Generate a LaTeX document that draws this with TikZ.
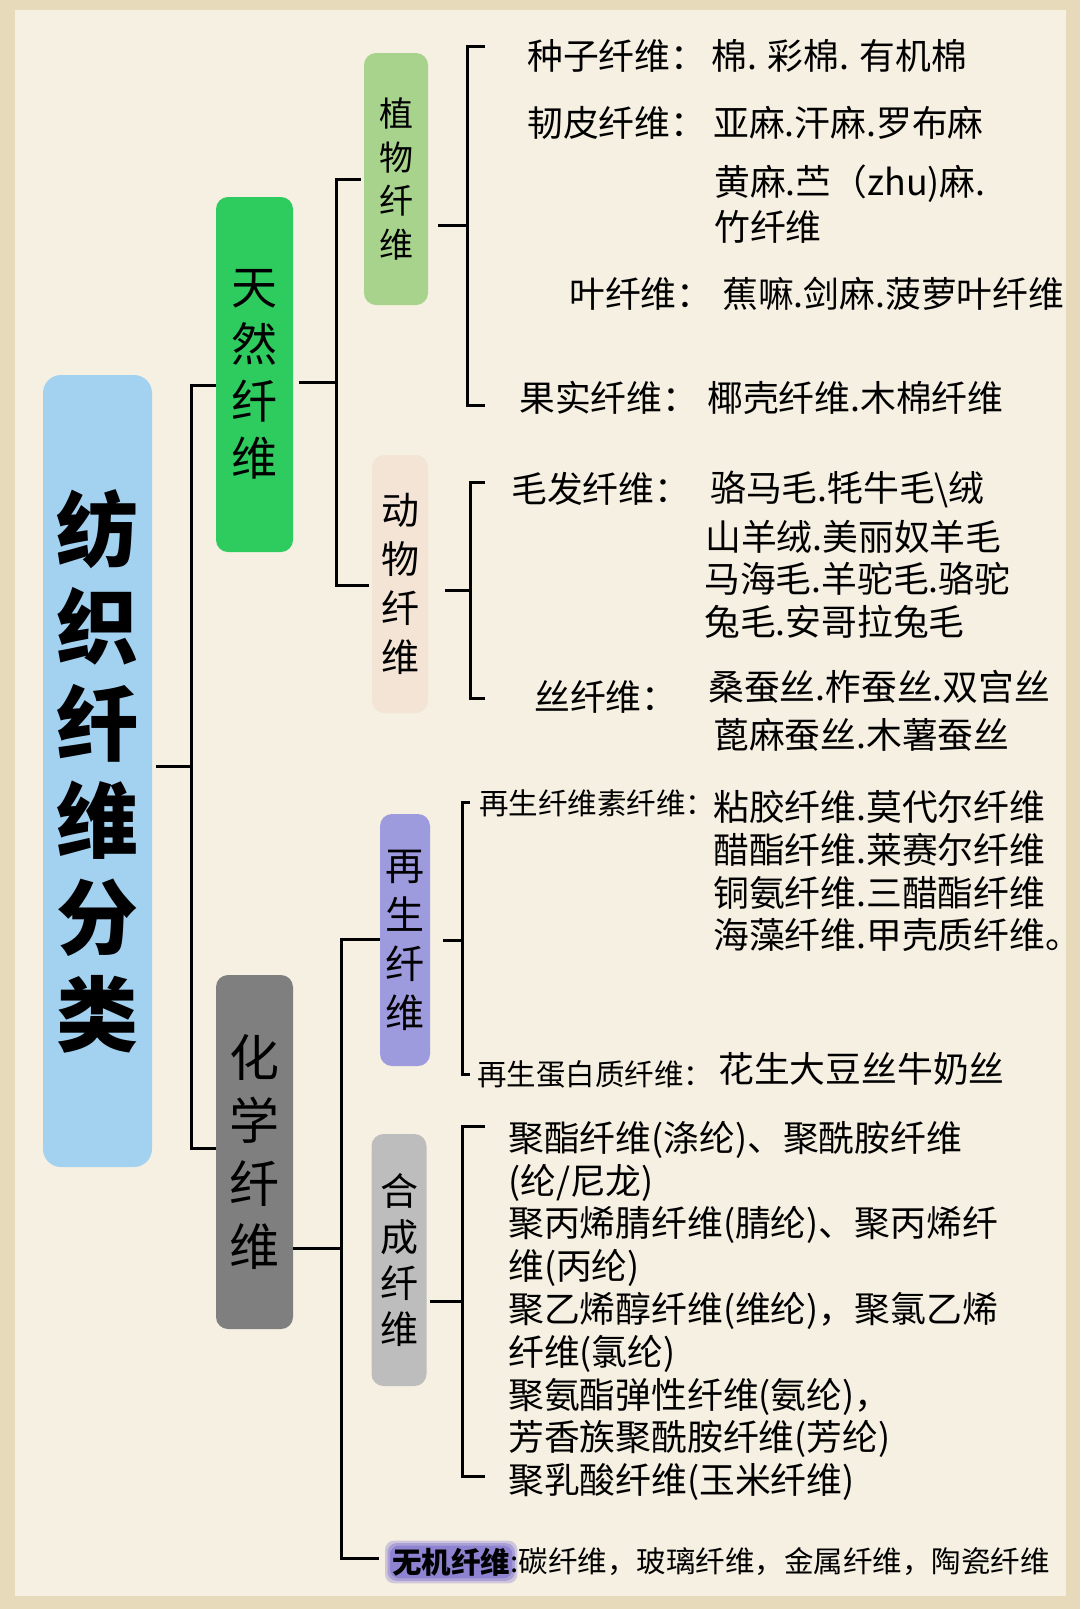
\documentclass[tikz,border=0pt]{standalone}
\usepackage{fontspec}
\setmainfont{Noto Sans CJK SC}
\usetikzlibrary{calc}
\definecolor{outerbg}{HTML}{E7DABA}
\definecolor{innerbg}{HTML}{F6F0E2}
\definecolor{mainblue}{HTML}{A3D1F0}
\definecolor{tianranc}{HTML}{2ECC5F}
\definecolor{zhiwuc}{HTML}{A8D38D}
\definecolor{dongwuc}{HTML}{F3E4D6}
\definecolor{zaishengc}{HTML}{9E9ADE}
\definecolor{hechengc}{HTML}{BDBDBD}
\definecolor{huaxuec}{HTML}{7F7F7F}
\definecolor{glowc}{HTML}{7468CC}
\pgfdeclarelayer{bgl}
\pgfdeclarelayer{glowl}
\pgfsetlayers{bgl,glowl,main}
\begin{document}
\begin{tikzpicture}[x=1pt,y=-1pt,
  conn/.style={line width=3pt,draw=black},
  box/.style={rounded corners=12pt,inner sep=0pt,align=center,text=black},
  txt/.style={anchor=west,inner sep=0pt,text=black,font=\fontsize{35.8}{35.8}\selectfont},
  smtxt/.style={anchor=west,inner sep=0pt,text=black,font=\fontsize{29.5}{29.5}\selectfont},
]
\useasboundingbox (0,0) rectangle (1080,1609);
\begin{pgfonlayer}{bgl}
\fill[outerbg] (0,0) rectangle (1080,1609);
\fill[innerbg] (15,10) rectangle (1066,1596);
\end{pgfonlayer}

% boxes
\node[box,rounded corners=18pt,fill=mainblue,minimum width=109pt,minimum height=792pt,font=\bfseries\fontsize{82}{97}\selectfont] (main) at (97.5,771) {纺\\织\\纤\\维\\分\\类};
\node[box,fill=tianranc,minimum width=77pt,minimum height=355pt,font=\fontsize{46}{57}\selectfont] (tianran) at (254.5,374.5) {天\\然\\纤\\维};
\node[box,fill=zhiwuc,minimum width=64pt,minimum height=252pt,font=\fontsize{34}{43.5}\selectfont] (zhiwu) at (396,179) {植\\物\\纤\\维};
\node[box,fill=dongwuc,minimum width=56pt,minimum height=258pt,font=\fontsize{38}{49}\selectfont] (dongwu) at (400,584) {动\\物\\纤\\维};
\node[box,fill=huaxuec,minimum width=77pt,minimum height=354pt,font=\fontsize{50}{63}\selectfont] (huaxue) at (254.5,1152) {化\\学\\纤\\维};
\node[box,fill=zaishengc,minimum width=50pt,minimum height=252pt,font=\fontsize{39}{49}\selectfont] (zaisheng) at (405,940) {再\\生\\纤\\维};
\node[box,fill=hechengc,minimum width=55pt,minimum height=252pt,font=\fontsize{38}{46}\selectfont] (hecheng) at (399,1260) {合\\成\\纤\\维};

% plant texts
\node[txt] (p1a) at (527,56) {种子纤维：};
\node[txt] (p1b) at (711,56) {棉. 彩棉. 有机棉};
\node[txt] (p2a) at (527,123) {韧皮纤维：};
\node[txt] (p2b) at (713,123) {亚麻.汗麻.罗布麻};
\node[txt] (p3) at (714,184) {黄麻.苎（zhu)麻.};
\node[txt] (p4) at (714,227) {竹纤维};
\node[txt] (p5a) at (569,294) {叶纤维：};
\node[txt] (p5b) at (722,294) {蕉嘛.剑麻.菠萝叶纤维};
\node[txt] (p6a) at (519,398) {果实纤维：};
\node[txt] (p6b) at (707,398) {椰壳纤维.木棉纤维};

% animal texts
\node[txt] (a1a) at (511,489) {毛发纤维：};
\node[txt] (a1b) at (710,489) {骆马毛.牦牛毛\textbackslash 绒};
\node[txt] (a2) at (705,537) {山羊绒.美丽奴羊毛};
\node[txt] (a3) at (704,579) {马海毛.羊驼毛.骆驼};
\node[txt] (a4) at (704,622) {兔毛.安哥拉兔毛};
\node[txt] (a5a) at (534,697) {丝纤维：};
\node[txt] (a5b) at (708,687) {桑蚕丝.柞蚕丝.双宫丝};
\node[txt] (a6) at (713,735) {蓖麻蚕丝.木薯蚕丝};

% regenerated texts
\node[smtxt] (r1a) at (479,803) {再生纤维素纤维：};
\node[txt] (r1b) at (713,807) {粘胶纤维.莫代尔纤维};
\node[txt] (r2) at (713,850) {醋酯纤维.莱赛尔纤维};
\node[txt] (r3) at (713,893) {铜氨纤维.三醋酯纤维};
\node[txt] (r4) at (713,935) {海藻纤维.甲壳质纤维。};
\node[smtxt] (r5a) at (477,1074) {再生蛋白质纤维：};
\node[txt] (r5b) at (718,1069) {花生大豆丝牛奶丝};

% synthetic texts
\node[txt] (s1) at (508,1140) {聚酯纤维(涤纶)、聚酰胺纤维};
\node[txt] (s2) at (508,1183) {(纶/尼龙)};
\node[txt] (s3) at (508,1225) {聚丙烯腈纤维(腈纶)、聚丙烯纤};
\node[txt] (s4) at (508,1268) {维(丙纶)};
\node[txt] (s5) at (508,1311) {聚乙烯醇纤维(维纶)，聚氯乙烯};
\node[txt] (s6) at (508,1354) {纤维(氯纶)};
\node[txt] (s7) at (508,1397) {聚氨酯弹性纤维(氨纶)，};
\node[txt] (s8) at (508,1439) {芳香族聚酰胺纤维(芳纶)};
\node[txt] (s9) at (508,1482) {聚乳酸纤维(玉米纤维)};

% inorganic
\node[smtxt,font=\bfseries\fontsize{29.5}{29.5}\selectfont] (wuji) at (392,1562) {无机纤维};
\node[smtxt] (wujit) at (wuji.east) {:碳纤维，玻璃纤维，金属纤维，陶瓷纤维};
\begin{pgfonlayer}{glowl}
\foreach \i/\o in {7/0.3,4.5/0.4,2/0.5}
  \fill[glowc,opacity=\o,rounded corners=9pt] ($(wuji.north west)+(-\i,-\i)$) rectangle ($(wuji.south east)+(\i,\i)$);
\end{pgfonlayer}

% connectors: main
\coordinate (m1t) at (191,385);
\coordinate (m1b) at (191,1148);
\coordinate (m1m) at (191,766);
\draw[conn,shorten <=4pt] (main.east |- m1m) -- (m1m);
\draw[conn] (tianran.west |- m1t) -- (m1t) -- (m1b) -- (huaxue.west |- m1b);

% tianran
\coordinate (t1t) at (336,179);
\coordinate (t1b) at (336,585);
\coordinate (t1m) at (336,382);
\draw[conn,shorten <=6pt] (tianran.east |- t1m) -- (t1m);
\draw[conn,shorten <=3pt,shorten >=3pt] (zhiwu.west |- t1t) -- (t1t) -- (t1b) -- (dongwu.west |- t1b);

% zhiwu bracket
\coordinate (z1t) at (467,46);
\coordinate (z1b) at (467,405);
\coordinate (z1m) at (467,225);
\coordinate (z1te) at (485,46);
\coordinate (z1be) at (485,405);
\draw[conn,shorten <=10pt] (zhiwu.east |- z1m) -- (z1m);
\draw[conn] (z1te) -- (z1t) -- (z1b) -- (z1be);

% dongwu bracket
\coordinate (d1t) at (470,482);
\coordinate (d1b) at (470,698);
\coordinate (d1m) at (470,590);
\coordinate (d1te) at (485,482);
\coordinate (d1be) at (485,698);
\draw[conn,shorten <=17pt] (dongwu.east |- d1m) -- (d1m);
\draw[conn] (d1te) -- (d1t) -- (d1b) -- (d1be);

% huaxue bus
\coordinate (h1t) at (341,939);
\coordinate (h1b) at (341,1558);
\coordinate (h1m) at (341,1248);
\draw[conn] (huaxue.east |- h1m) -- (h1m);
\draw[conn,shorten >=13pt] (zaisheng.west |- h1t) -- (h1t) -- (h1b) -- (wuji.west |- h1b);

% zaisheng bracket
\coordinate (g1t) at (462,802);
\coordinate (g1b) at (462,1074);
\coordinate (g1m) at (462,940);
\coordinate (g1te) at (470,802);
\coordinate (g1be) at (470,1074);
\draw[conn,shorten <=13pt] (zaisheng.east |- g1m) -- (g1m);
\draw[conn] (g1te) -- (g1t) -- (g1b) -- (g1be);

% hecheng bracket
\coordinate (c1t) at (462,1126);
\coordinate (c1b) at (462,1476);
\coordinate (c1m) at (462,1301);
\coordinate (c1te) at (485,1126);
\coordinate (c1be) at (485,1476);
\draw[conn,shorten <=3pt] (hecheng.east |- c1m) -- (c1m);
\draw[conn] (c1te) -- (c1t) -- (c1b) -- (c1be);
\end{tikzpicture}
\end{document}
